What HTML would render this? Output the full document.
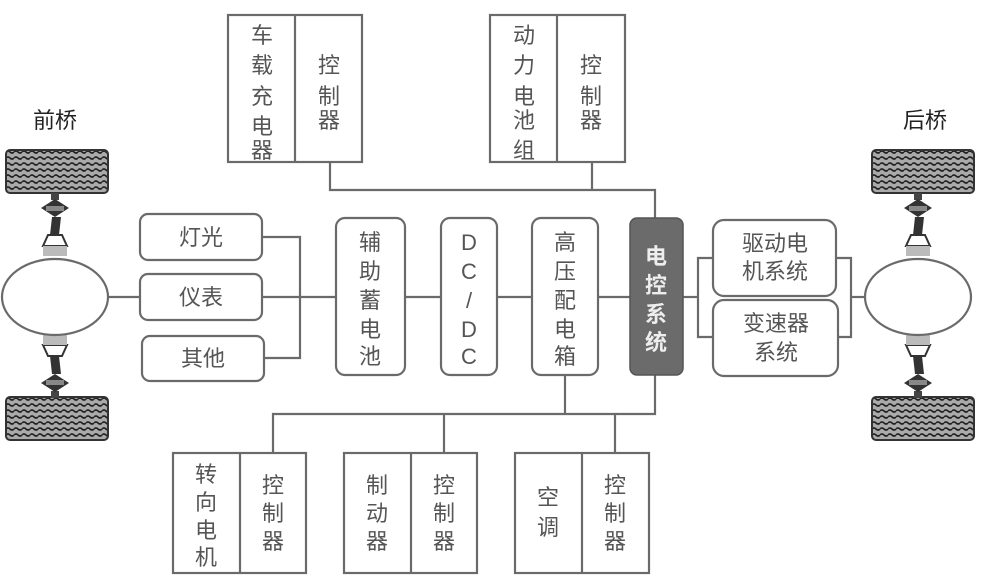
<!DOCTYPE html>
<html><head><meta charset="utf-8"><style>
html,body{margin:0;padding:0;background:#fff;}
svg{display:block;}
text{font-family:"Liberation Sans","Noto Sans CJK SC",sans-serif;font-size:22px;fill:#555;text-anchor:middle;}
</style></head><body>
<svg width="1000" height="578" viewBox="0 0 1000 578">
<defs>
<pattern id="tread" width="8" height="6" patternUnits="userSpaceOnUse">
<rect width="8" height="6" fill="#aaa"/>
<path d="M0 2 Q2 0 4 2 T8 2" stroke="#222" stroke-width="1.6" fill="none"/>
</pattern>
<g id="tire"><rect x="0" y="0" width="102" height="43" rx="4" fill="url(#tread)" stroke="#333" stroke-width="2"/></g>
<g id="joint">
<rect x="-4" y="0" width="8" height="7" fill="#444"/>
<path d="M-14 15 L0 6 L14 15 L0 24 Z" fill="#333"/>
<rect x="-9" y="13" width="18" height="5" fill="#888"/>
<path d="M-3 24 L6 24 L4 42 L-5 42 Z" fill="#333"/>
<path d="M-12 53 L-7 42 L7 42 L12 53 Z" fill="#fff" stroke="#333" stroke-width="2"/>
<rect x="-12" y="53" width="24" height="10" fill="#bbb"/>
</g>
</defs>
<g stroke="#6a6a6a" stroke-width="2.2" fill="none">
<polyline points="330,162 330,190 655,190 655,220"/>
<line x1="592" y1="162" x2="592" y2="190"/>
<line x1="108" y1="297" x2="140" y2="297"/>
<line x1="262" y1="297" x2="336" y2="297"/>
<polyline points="262,237 300,237 300,358 264,358"/>
<line x1="405" y1="297" x2="441" y2="297"/>
<line x1="497" y1="297" x2="532" y2="297"/>
<line x1="598" y1="297" x2="630" y2="297"/>
<line x1="683" y1="297" x2="698" y2="297"/>
<polyline points="713,258 698,258 698,337 713,337"/>
<polyline points="836,258 851,258 851,337 838,337"/>
<line x1="851" y1="297" x2="865" y2="297"/>
<polyline points="565,375 565,414"/>
<polyline points="655,375 655,414 273,414 273,453"/>
<line x1="444" y1="414" x2="444" y2="453"/>
<line x1="615" y1="414" x2="615" y2="453"/>
</g>
<g stroke="#6a6a6a" stroke-width="2.2" fill="#fff">
<rect x="228" y="15" width="134" height="147"/><line x1="295" y1="15" x2="295" y2="162"/>
<rect x="490" y="15" width="135" height="147"/><line x1="557" y1="15" x2="557" y2="162"/>
<rect x="173" y="453" width="133" height="120"/><line x1="240" y1="453" x2="240" y2="573"/>
<rect x="344" y="453" width="133" height="120"/><line x1="411" y1="453" x2="411" y2="573"/>
<rect x="515" y="453" width="134" height="120"/><line x1="582" y1="453" x2="582" y2="573"/>
<rect x="140" y="214" width="122" height="46" rx="8"/>
<rect x="140" y="274" width="122" height="46" rx="8"/>
<rect x="142" y="336" width="122" height="45" rx="8"/>
<rect x="336" y="218" width="69" height="157" rx="9"/>
<rect x="441" y="218" width="56" height="157" rx="9"/>
<rect x="532" y="218" width="66" height="157" rx="9"/>
<rect x="713" y="220" width="123" height="76" rx="11"/>
<rect x="713" y="300" width="125" height="76" rx="11"/>
</g>
<rect x="630" y="218" width="53" height="157" rx="7" fill="#6b6b6b" stroke="#555" stroke-width="1.5"/>
<use href="#tire" x="6" y="150"/><use href="#tire" x="6" y="397"/>
<use href="#tire" x="872" y="150"/><use href="#tire" x="872" y="397"/>
<use href="#joint" x="55" y="193"/>
<g transform="translate(55,398) scale(1,-1)"><use href="#joint"/></g>
<use href="#joint" x="918" y="193"/>
<g transform="translate(918,398) scale(1,-1)"><use href="#joint"/></g>
<g stroke="#6a6a6a" stroke-width="2.2" fill="#fff">
<ellipse cx="55" cy="297" rx="53" ry="38"/>
<ellipse cx="918" cy="297" rx="53" ry="38"/>
</g>
<text x="55" y="128" style="fill:#222">前桥</text>
<text x="925" y="128" style="fill:#222">后桥</text>
<g>
<text x="262" y="43">车</text><text x="262" y="73">载</text><text x="262" y="104">充</text><text x="262" y="134">电</text><text x="262" y="158">器</text>
<text x="329" y="73">控</text><text x="329" y="104">制</text><text x="329" y="128">器</text>
<text x="524" y="43">动</text><text x="524" y="73">力</text><text x="524" y="104">电</text><text x="524" y="128">池</text><text x="524" y="158">组</text>
<text x="591" y="73">控</text><text x="591" y="104">制</text><text x="591" y="128">器</text>
<text x="201" y="245">灯光</text><text x="201" y="305">仪表</text><text x="203" y="366">其他</text>
<text x="370" y="250">辅</text><text x="370" y="279">助</text><text x="370" y="308">蓄</text><text x="370" y="337">电</text><text x="370" y="364">池</text>
<text x="469" y="250">D</text><text x="469" y="279">C</text><text x="469" y="308">/</text><text x="469" y="337">D</text><text x="469" y="364">C</text>
<text x="565" y="250">高</text><text x="565" y="279">压</text><text x="565" y="308">配</text><text x="565" y="337">电</text><text x="565" y="364">箱</text>
<g style="font-weight:bold"><text x="656" y="264" style="fill:#eee">电</text><text x="656" y="293" style="fill:#eee">控</text><text x="656" y="322" style="fill:#eee">系</text><text x="656" y="350" style="fill:#eee">统</text></g>
<text x="775" y="251">驱动电</text><text x="775" y="279">机系统</text>
<text x="776" y="331">变速器</text><text x="776" y="360">系统</text>
<text x="206" y="482">转</text><text x="206" y="510">向</text><text x="206" y="538">电</text><text x="206" y="565">机</text>
<text x="273" y="493">控</text><text x="273" y="521">制</text><text x="273" y="549">器</text>
<text x="377" y="493">制</text><text x="377" y="521">动</text><text x="377" y="549">器</text>
<text x="444" y="493">控</text><text x="444" y="521">制</text><text x="444" y="549">器</text>
<text x="548" y="505">空</text><text x="548" y="535">调</text>
<text x="615" y="493">控</text><text x="615" y="521">制</text><text x="615" y="549">器</text>
</g>
</svg>
</body></html>
